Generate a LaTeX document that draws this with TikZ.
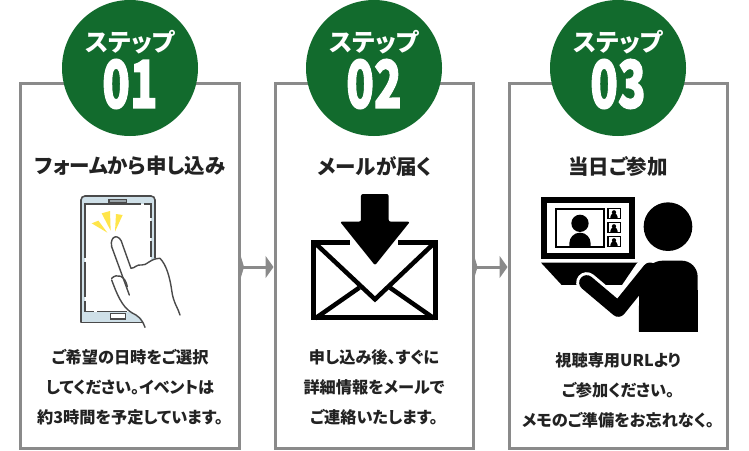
\documentclass[tikz,border=0pt]{standalone}
\usepackage{fontspec}
\setmainfont{Noto Sans CJK JP Black}[RawFeature=+palt]
\newfontfamily\numfont{Noto Sans CJK JP Black}[FakeBold=2]
\usetikzlibrary{arrows.meta}
\definecolor{stepgreen}{HTML}{126B2D}
\definecolor{framegray}{HTML}{8A8A8A}
\definecolor{ink}{HTML}{222222}
\definecolor{phoneline}{HTML}{4A4A4A}
\definecolor{phoneblue}{HTML}{CFE0E8}
\definecolor{ray}{HTML}{FFE54A}
\tikzset{
  card/.style={draw=framegray,line width=3pt,fill=white,inner sep=0pt,minimum height=365pt},
  badge/.style={circle,fill=stepgreen,minimum size=136pt,inner sep=0pt},
  steplabel/.style={text=white,font=\fontsize{24.5}{24.5}\selectfont,inner sep=0pt},
  stepnum/.style={text=white,font=\numfont\fontsize{60}{60}\selectfont,inner sep=0pt,xscale=0.76,yscale=1.1},
  cardtitle/.style={text=ink,font=\fontsize{20.5}{20.5}\selectfont,inner sep=0pt},
  cardtext/.style={text=ink,font=\fontsize{16.2}{16.2}\selectfont,inner sep=0pt},
  flow/.style={draw=framegray,line width=3pt,{Triangle[length=3pt,width=20pt,reversed]}-{Triangle[length=8pt,width=22pt]},shorten >=0pt,shorten <=0pt},
}
\begin{document}
\begin{tikzpicture}[x=1pt,y=-1pt]
\useasboundingbox (0,0) rectangle (749,450);
\fill[white] (0,0) rectangle (749,450);
% cards
\node[card,minimum width=219pt] (c1) at (130,265.5) {};
\node[card,minimum width=198pt] (c2) at (374,265.5) {};
\node[card,minimum width=218pt] (c3) at (618,265.5) {};
\coordinate (fy) at (0,267);
\draw[flow] (c1.east |- fy) -- (c2.west |- fy);
\draw[flow] (c2.east |- fy) -- (c3.west |- fy);
% badges
\node[badge] (b1) at (130,68) {};
\node[badge] (b2) at (374,68) {};
\node[badge] (b3) at (618,68) {};
\node[steplabel] (s1) at (130,42) {ステップ};
\node[steplabel] (s2) at (374,42) {ステップ};
\node[steplabel] (s3) at (618,42) {ステップ};
\node[stepnum] (n1) at (130,84) {01};
\node[stepnum] (n2) at (374,84) {02};
\node[stepnum] (n3) at (618,84) {03};
% titles
\node[cardtitle] (t1) at (130,166) {フォームから申し込み};
\node[cardtitle] (t2) at (375,166) {メールが届く};
\node[cardtitle] (t3) at (618,166) {当日ご参加};
% body
\node[cardtext] (a1) at (130,357) {ご希望の日時をご選択};
\node[cardtext] (a2) at (130,387) {してください。イベントは};
\node[cardtext] (a3) at (130,417) {約3時間を予定しています。};
\node[cardtext] (d1) at (374,357) {申し込み後、すぐに};
\node[cardtext] (d2) at (374,387) {詳細情報をメールで};
\node[cardtext] (d3) at (374,417) {ご連絡いたします。};
\node[cardtext] (e1) at (618,360) {視聴専用URLより};
\node[cardtext] (e2) at (618,390) {ご参加ください。};
\node[cardtext] (e3) at (618,420) {メモのご準備をお忘れなく。};
% phone icon
\begin{scope}[shift={(70,190)},x=0.3333pt,y=-0.3333pt]
\fill[phoneblue,rounded corners=4pt] (33,18) rectangle (255,398);
\draw[phoneline,line width=1.6pt,rounded corners=4pt] (33,398) -- (33,18) -- (255,18) -- (255,205);
\draw[phoneline,line width=1.6pt] (33,398) -- (215,398);
\fill[white] (45,42) rectangle (243,365);
\draw[phoneline,line width=1.6pt] (45,203) -- (45,42) -- (213,42) (222,42) -- (243,42) -- (243,85) (243,92) -- (243,145) (243,152) -- (243,200) (45,215) -- (45,320) (45,332) -- (45,365) -- (72,365) (82,365) -- (170,365);
\draw[phoneline,line width=1.2pt,fill=phoneblue!60!phoneline] (117,28) rectangle (170,37);
\draw[phoneline,line width=1.2pt,fill=white] (122,370) rectangle (166,387);
\fill[ray] (65,100) -- (85,92) -- (112,128) -- cycle;
\fill[ray] (95,70) -- (120,63) -- (122,122) -- cycle;
\fill[ray] (138,72) -- (158,75) -- (135,125) -- cycle;
\fill[white] (178,315) -- (125,165) .. controls (120,135) and (150,130) .. (158,165) -- (183,235) -- (270,205) -- (300,260) -- (330,375) -- (330,412) -- (225,412) -- (215,385) -- (180,365) -- (150,330) -- (125,270) -- cycle;
\draw[phoneline,line width=1.4pt,line cap=round,line join=round] (178,315) -- (125,170) .. controls (118,135) and (150,128) .. (158,165) -- (183,235) .. controls (195,235) and (200,222) .. (215,225) .. controls (230,228) and (240,205) .. (270,205) .. controls (290,225) and (300,265) .. (305,300) .. controls (310,340) and (325,355) .. (330,375);
\draw[phoneline,line width=1.4pt,line cap=round,line join=round] (125,265) .. controls (140,250) and (165,255) .. (172,290);
\draw[phoneline,line width=1.4pt,line cap=round,line join=round] (125,270) .. controls (140,310) and (155,350) .. (185,368) .. controls (205,378) and (215,385) .. (225,412);
\end{scope}
% envelope icon
\begin{scope}[shift={(230,190)},x=0.3333pt,y=-0.3333pt]
\draw[black,line width=5pt,line join=miter] (360,157) -- (252,157) -- (252,383) -- (616,383) -- (616,157) -- (505,157);
\draw[black,line width=4.5pt,line join=miter] (256,160) -- (435,328) -- (612,160);
\draw[black,line width=4.5pt] (256,385) -- (388,293) (612,385) -- (480,293);
\fill[black,rounded corners=2pt] (393,12) -- (476,12) -- (476,95) -- (540,95) -- (435,226) -- (330,95) -- (393,95) -- cycle;
\end{scope}
% video icon
\begin{scope}[shift={(470,190)},x=0.3333pt,y=-0.3333pt]
\fill[black] (213,20) rectangle (495,207);
\fill[white] (232,40) rectangle (477,188);
\draw[black,line width=2pt,fill=white] (259,57) rectangle (401,170);
\fill[black] (330,100) circle (26);
\fill[black] (298,168) -- (298,160) arc[start angle=180,end angle=360,radius=32] -- (362,168) -- cycle;
\foreach \yy in {55,97,139} {
  \draw[black,line width=1.6pt,fill=white] (414,\yy+1) rectangle (451,\yy+31);
  \fill[black] (432,\yy+12) circle (6.5);
  \fill[black] (421,\yy+29) -- (421,\yy+26) arc[start angle=180,end angle=360,radius=11] -- (443,\yy+29) -- cycle;
}
\fill[black] (213,218) -- (505,218) -- (470,285) -- (275,285) -- cycle;
\draw[white,line width=21pt,line cap=round,line join=round] (525,240) -- (445,358) -- (350,278);
\fill[black,rounded corners=16pt] (507,425) -- (507,300) -- (530,212) -- (683,212) -- (683,425) [sharp corners] -- cycle;
\fill[black] (507,300) rectangle (683,425);
\draw[black,line width=15pt,line cap=round,line join=round] (540,240) -- (445,358) -- (350,278);
\fill[black] (594,110) circle (73);
\end{scope}
\end{tikzpicture}
\end{document}
